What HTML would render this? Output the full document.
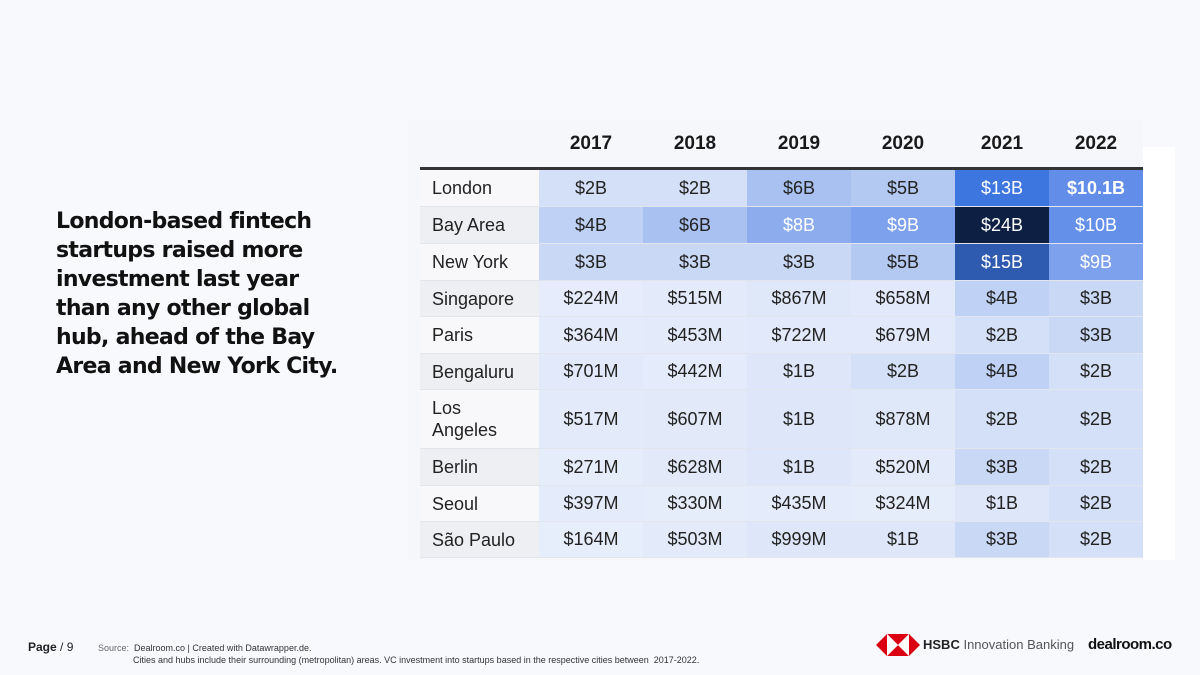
<!DOCTYPE html>
<html><head><meta charset="utf-8"><style>
body{margin:0;width:1200px;height:675px;background:#f8f9fd;font-family:"Liberation Sans","DejaVu Sans",sans-serif;position:relative;overflow:hidden}
.abs{position:absolute}
#headline{left:56px;top:207px;width:300px;font-size:22px;font-weight:bold;line-height:29px;color:#111;font-family:"DejaVu Sans","Liberation Sans",sans-serif;letter-spacing:-0.7px}
#panel{left:408px;top:120px;width:735px;height:440px;background:#f6f7fb}
#whitebar{left:1143px;top:147px;width:32px;height:413px;background:#fff}
.cell{position:absolute;display:flex;align-items:center;justify-content:center;font-size:18px;color:#222;box-sizing:border-box;border-bottom:1px solid #e2e5ec}
.lab{justify-content:flex-start;padding-left:12px;line-height:22px}
.hd{position:absolute;font-weight:bold;font-size:19px;color:#1a1a1a;text-align:center}
</style></head><body>
<div class="abs" id="panel"></div>
<div class="abs" id="whitebar"></div>
<div class="abs" id="headline">London-based fintech startups raised more investment last year than any other global hub, ahead of the Bay Area and New York City.</div>
<div class="abs" id="table" style="left:0;top:0"></div>
<div class="abs" style="left:420px;top:167px;width:723px;height:3px;background:#333"></div>
<div class="abs" style="left:28px;top:640px;font-size:12px;color:#222"><b>Page</b> / 9</div>
<div class="abs" style="left:98px;top:642px;font-size:9px;line-height:12px;color:#333"><span style="color:#666">Source:</span>&nbsp; Dealroom.co | Created with Datawrapper.de.<br><span style="padding-left:35px">Cities and hubs include their surrounding (metropolitan) areas. VC investment into startups based in the respective cities between &nbsp;2017-2022.</span></div>
<svg class="abs" style="left:876px;top:632px" width="44" height="26"><polygon points="0,13 11,2 11,24" fill="#db0011"/><polygon points="44,13 33,2 33,24" fill="#db0011"/><polygon points="11,2 33,2 22,13" fill="#db0011"/><polygon points="11,24 33,24 22,13" fill="#db0011"/><polygon points="11,2 22,13 11,24" fill="#fff"/><polygon points="33,2 22,13 33,24" fill="#fff"/></svg>
<div class="abs" style="left:923px;top:637px;font-size:13px;color:#222"><b>HSBC</b> <span style="color:#555">Innovation Banking</span></div>
<div class="abs" style="left:1088px;top:636px;font-size:15px;font-weight:bold;color:#111;letter-spacing:-0.5px">dealroom.co</div>
<script>
const years=["2017","2018","2019","2020","2021","2022"];
const cities=["London","Bay Area","New York","Singapore","Paris","Bengaluru","Los Angeles","Berlin","Seoul","São Paulo"];
const valuesM=[
[2000,2000,6000,5000,13000,10100],
[4000,6000,8000,9000,24000,10000],
[3000,3000,3000,5000,15000,9000],
[224,515,867,658,4000,3000],
[364,453,722,679,2000,3000],
[701,442,1000,2000,4000,2000],
[517,607,1000,878,2000,2000],
[271,628,1000,520,3000,2000],
[397,330,435,324,1000,2000],
[164,503,999,1000,3000,2000]];
const labels=[
["$2B","$2B","$6B","$5B","$13B","$10.1B"],
["$4B","$6B","$8B","$9B","$24B","$10B"],
["$3B","$3B","$3B","$5B","$15B","$9B"],
["$224M","$515M","$867M","$658M","$4B","$3B"],
["$364M","$453M","$722M","$679M","$2B","$3B"],
["$701M","$442M","$1B","$2B","$4B","$2B"],
["$517M","$607M","$1B","$878M","$2B","$2B"],
["$271M","$628M","$1B","$520M","$3B","$2B"],
["$397M","$330M","$435M","$324M","$1B","$2B"],
["$164M","$503M","$999M","$1B","$3B","$2B"]];
const colX=[539,643,747,851,955,1049,1143];
const rowH=[37,37,37,36,37,36,59,37,36,36];
const stops=[[0,[232,238,251]],[2000,[212,224,247]],[6000,[169,193,240]],[9000,[125,161,236]],[10100,[98,142,234]],[13000,[62,118,224]],[15000,[46,90,176]],[24000,[14,31,68]]];
function color(v){for(let i=1;i<stops.length;i++){if(v<=stops[i][0]){const a=stops[i-1],b=stops[i],t=(v-a[0])/(b[0]-a[0]);return 'rgb('+a[1].map((c,k)=>Math.round(c+(b[1][k]-c)*t)).join(',')+')';}}return 'rgb(14,31,68)';}
const tb=document.getElementById('table');
years.forEach((y,j)=>{const h=document.createElement('div');h.className='hd';


h.style.left=colX[j]+'px';h.style.width=(colX[j+1]-colX[j])+'px';h.style.top='133px';h.textContent=y;tb.appendChild(h);});
let yPos=170;
cities.forEach((c,i)=>{
 const l=document.createElement('div');l.className='cell lab';
 
 
 l.style.cssText+=`left:420px;top:${yPos}px;width:119px;height:${rowH[i]}px;background:${i%2?'#eeeff2':'#f8f8fa'}`;
 l.textContent=c;if(c==='Los Angeles')l.innerHTML='Los<br>Angeles';tb.appendChild(l);
 years.forEach((y,j)=>{const d=document.createElement('div');d.className='cell';
 
 
 const v=valuesM[i][j];
 d.style.cssText+=`left:${colX[j]}px;top:${yPos}px;width:${colX[j+1]-colX[j]}px;height:${rowH[i]}px;background:${color(v)};color:${v>=7000?'#fff':'#222'}`;
 if(labels[i][j]==='$10.1B')d.style.fontWeight='bold';
 d.textContent=labels[i][j];tb.appendChild(d);});
 yPos+=rowH[i];});
</script>
</body></html>
